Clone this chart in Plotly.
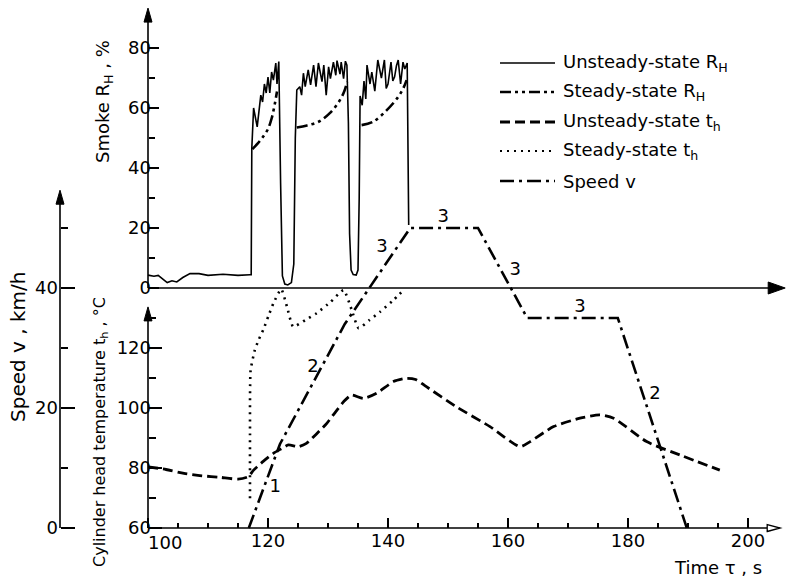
import plotly.graph_objects as go

# ---------------- data ----------------
# Smoke R_H, unsteady state (%)
smoke_u_t = [100, 101, 101.7, 102.5, 103.2, 104, 104.8, 105.8, 107, 108.5, 110, 112.5, 115, 117.0,
             117.2, 117.3, 117.6, 118.2, 118.8, 119.1, 119.4, 119.7, 120.0, 120.3, 120.6, 120.9, 121.3, 121.5, 121.8,
             122.1, 122.4, 122.8, 123.3, 123.9, 124.3, 124.55, 124.8,
             125.3, 125.6, 125.9, 126.2, 126.7, 127.1, 127.6, 128.0, 128.4, 129.0, 129.3, 129.7, 130.1, 130.4,
             130.9, 131.3, 131.5, 132.0, 132.2, 132.6, 132.9, 133.15,
             133.4, 133.6, 133.85, 134.2, 134.7, 135.0, 135.2, 135.35,
             135.7, 136.0, 136.3, 136.5, 137.0, 137.3, 137.8, 138.3, 138.9, 139.4, 139.7, 140.0, 140.5, 140.8,
             141.1, 141.4, 141.7, 142.1, 142.5, 142.8, 143.2, 143.45]
smoke_u_v = [4.3, 3.9, 4.2, 3.0, 1.8, 2.4, 2.0, 3.5, 4.8, 4.8, 4.2, 4.6, 4.2, 4.4,
             4.4, 46.5, 60.0, 53.7, 64.3, 62.0, 68.0, 65.0, 70.3, 65.0, 72.0, 69.3, 75.0, 68.0, 75.5,
             35.0, 4.0, 1.3, 1.0, 1.8, 8.0, 50.0, 66.0,
             67.1, 64.3, 71.6, 67.1, 72.7, 67.7, 74.3, 67.1, 75.0, 68.8, 74.3, 64.3, 73.7, 69.8,
             75.3, 70.9, 75.8, 71.3, 75.3, 69.8, 75.6, 74.3,
             55.0, 18.0, 6.0, 4.5, 4.3, 6.0, 30.0, 64.0,
             60.9, 69.0, 63.0, 74.3, 68.0, 72.0, 65.6, 76.0, 70.0, 76.0, 66.5, 68.0, 75.3, 69.0,
             70.4, 74.0, 76.0, 68.0, 75.3, 73.0, 75.0, 21.0]

# Smoke R_H, steady state (%) – three separate segments
smoke_s1_t = [117.4, 118.3, 119.2, 120.0, 120.6, 121.1, 121.5]
smoke_s1_v = [46.3, 48.2, 50.5, 53.0, 56.5, 61.0, 65.5]
smoke_s2_t = [124.8, 126.5, 128.5, 130.3, 131.8, 132.7, 133.2]
smoke_s2_v = [53.5, 54.2, 55.5, 58.3, 62.0, 65.5, 68.8]
smoke_s3_t = [135.6, 137.5, 139.8, 141.7, 142.6, 143.1]
smoke_s3_v = [54.3, 55.4, 59.3, 63.7, 66.8, 69.3]

# Cylinder head temperature t_h, unsteady state (°C)
temp_u_t = [100, 103, 106, 109, 112, 115, 116.7, 117.6, 119.2, 120.9, 122.3, 123.4, 125.1, 126.4, 128.0,
            129.8, 131.3, 132.6, 133.9, 135.9, 138.1, 140.9, 143.1, 144.6, 146.4, 151.4, 157.0, 162.0,
            163.7, 167.6, 172.0, 175.3, 177.6, 183.1, 188.7, 195.3]
temp_u_v = [80.4, 79.5, 78.2, 77.4, 76.9, 76.3, 77.1, 79.3, 82.2, 84.9, 86.5, 87.7, 87.1, 88.2, 91.2,
            94.9, 98.8, 102.1, 104.3, 103.2, 104.9, 108.8, 109.9, 109.5, 107.1, 100.4, 93.8, 87.1,
            88.8, 93.8, 96.6, 97.7, 96.6, 88.8, 84.3, 79.3]

# Cylinder head temperature t_h, steady state (°C)
temp_s_t = [117.0, 117.0, 117.1, 117.8, 118.5, 119.2, 120.1, 120.9, 122.2, 123.2, 124.2, 126.2, 128.1,
            130.4, 132.6, 133.9, 135.1, 136.9, 138.7, 140.7, 142.6]
temp_s_v = [69.9, 90.0, 112.5, 119.3, 123.0, 126.0, 130.8, 134.9, 139.6, 133.5, 127.1, 129.3, 131.6,
            135.3, 139.3, 133.0, 126.6, 129.3, 132.1, 135.6, 139.3]

# Speed v (km/h)
speed_t = [116.8, 122.0, 132.8, 143.7, 155.0, 163.2, 178.3, 189.8]
speed_v = [0, 14, 34, 50, 50, 35, 35, 0]

# gear labels on the speed curve (text, time, speed)
gear_text = ["1", "2", "3", "3", "3", "3", "2"]
gear_t = [121.2, 127.5, 139.0, 149.2, 161.2, 172.0, 184.5]
gear_v = [6.7, 26.7, 46.7, 51.8, 43.0, 36.8, 22.2]

time_ticks = [100, 120, 140, 160, 180, 200]
time_labels = ["", "120", "140", "160", "180", "200"]
time_minor = [105, 110, 115, 125, 130, 135, 145, 150, 155, 165, 170, 175, 185, 190, 195]
temp_ticks = [60, 80, 100, 120]
temp_minor = [70, 90, 110, 130]
smoke_ticks = [0, 20, 40, 60, 80]
smoke_minor = [10, 30, 50, 70]
speed_ticks = [0, 20, 40]
speed_minor = [10, 30, 50]

legend_names = ["Unsteady-state R<sub>H</sub>", "Steady-state R<sub>H</sub>",
                "Unsteady-state t<sub>h</sub>", "Steady-state t<sub>h</sub>", "Speed v"]

# ---------------- styling ----------------
W, H = 786, 580
FONT = "DejaVu Sans"
FS = 18
BLACK = "black"
DASH_SPEED = "14px,5px,3px,5px"
DASH_SSR = "11px,4px,3px,4px,3px,4px"
DASH_UT = "10px,5px"
DASH_ST = "2px,5px"

# pixel geometry: t=100 at x=148 px, 6 px per s; T=60 at y=528 px, 3 px per °C
X0, PX_S = 148, 6.0
Y0, PX_C = 528, 3.0
t_rng = [100 - X0 / PX_S, 100 + (W - X0) / PX_S]
T_rng = [60 - (H - Y0) / PX_C, 60 + Y0 / PX_C]
S_rng = [T_rng[0] - 140, T_rng[1] - 140]          # smoke 0 sits at T=140
V_rng = [(T_rng[0] - 60) / 2, (T_rng[1] - 60) / 2]  # speed 0 at T=60, 6 px per km/h

fig = go.Figure()

fig.add_trace(go.Scatter(x=smoke_u_t, y=smoke_u_v, yaxis="y2", mode="lines",
                         line=dict(color=BLACK, width=1.6), name="Unsteady-state R_H"))
for tt, vv in [(smoke_s1_t, smoke_s1_v), (smoke_s2_t, smoke_s2_v), (smoke_s3_t, smoke_s3_v)]:
    fig.add_trace(go.Scatter(x=tt, y=vv, yaxis="y2", mode="lines",
                             line=dict(color=BLACK, width=2.6, dash=DASH_SSR, shape="spline"),
                             name="Steady-state R_H"))
fig.add_trace(go.Scatter(x=temp_u_t, y=temp_u_v, yaxis="y", mode="lines",
                         line=dict(color=BLACK, width=2.8, dash=DASH_UT, shape="spline", smoothing=0.6),
                         name="Unsteady-state t_h"))
fig.add_trace(go.Scatter(x=temp_s_t, y=temp_s_v, yaxis="y", mode="lines",
                         line=dict(color=BLACK, width=2.6, dash=DASH_ST, shape="spline", smoothing=0.5),
                         name="Steady-state t_h"))
fig.add_trace(go.Scatter(x=speed_t, y=speed_v, yaxis="y3", mode="lines",
                         line=dict(color=BLACK, width=2.6, dash=DASH_SPEED), name="Speed v"))

fig.add_trace(go.Scatter(x=gear_t, y=gear_v, yaxis="y3", mode="text", text=gear_text,
                         textfont=dict(family=FONT, size=FS, color=BLACK), showlegend=False))

tickfont = dict(family=FONT, size=FS, color=BLACK)
common = dict(showgrid=False, zeroline=False, showline=False, ticks="inside", tickcolor=BLACK,
              tickwidth=1.5, tickfont=tickfont, tickmode="array", fixedrange=True)

fig.update_layout(
    width=W, height=H, margin=dict(l=0, r=0, t=0, b=0),
    paper_bgcolor="white", plot_bgcolor="white", showlegend=False, hovermode=False,
    font=dict(family=FONT, size=FS, color=BLACK),
    xaxis=dict(range=t_rng, anchor="free", position=(H - Y0) / H, tickvals=time_ticks,
               ticktext=time_labels, ticklen=10,
               minor=dict(tickmode="array", tickvals=time_minor, ticklen=5, tickwidth=1.2,
                          ticks="inside", tickcolor=BLACK),
               **common),
    yaxis=dict(range=T_rng, anchor="free", position=X0 / W, tickvals=temp_ticks, ticklen=13,
               ticklabelstandoff=-3,
               minor=dict(tickmode="array", tickvals=temp_minor, ticklen=7, tickwidth=1.2,
                          ticks="inside", tickcolor=BLACK),
               **common),
    yaxis2=dict(range=S_rng, overlaying="y", anchor="free", position=X0 / W, tickvals=smoke_ticks,
                ticklen=10, ticklabelstandoff=-3,
                minor=dict(tickmode="array", tickvals=smoke_minor, ticklen=6, tickwidth=1.2,
                           ticks="inside", tickcolor=BLACK),
                **common),
    yaxis3=dict(range=V_rng, overlaying="y", anchor="free", position=60 / W, tickvals=speed_ticks,
                ticklen=14, ticklabelstandoff=2,
                minor=dict(tickmode="array", tickvals=speed_minor, ticklen=7, tickwidth=1.2,
                           ticks="inside", tickcolor=BLACK),
                **common),
)

# ---------------- axis lines and arrow heads ----------------
LW = 1.6
shapes = []
# time axis (T = 60) with open arrow
shapes.append(dict(type="line", xref="x", yref="y", x0=100, x1=203.2, y0=60, y1=60,
                   line=dict(color=BLACK, width=LW)))
shapes.append(dict(type="path", xref="x", yref="y", xsizemode="pixel", ysizemode="pixel",
                   xanchor=203.2, yanchor=60, path="M 0,-3.5 L 13,0 L 0,3.5 Z",
                   fillcolor="white", line=dict(color=BLACK, width=1.3)))
# smoke zero line with filled arrow
shapes.append(dict(type="line", xref="x", yref="y2", x0=100, x1=204, y0=0, y1=0,
                   line=dict(color=BLACK, width=LW)))
shapes.append(dict(type="path", xref="x", yref="y2", xsizemode="pixel", ysizemode="pixel",
                   xanchor=206.2, yanchor=0, path="M -17,-6 L 0,0 L -17,6 Z",
                   fillcolor=BLACK, line=dict(color=BLACK, width=1)))
# smoke vertical axis
shapes.append(dict(type="line", xref="x", yref="y2", x0=100, x1=100, y0=0, y1=90,
                   line=dict(color=BLACK, width=LW)))
shapes.append(dict(type="path", xref="x", yref="y2", xsizemode="pixel", ysizemode="pixel",
                   xanchor=100, yanchor=93.3, path="M -4,-14 L 0,0 L 4,-14 Z",
                   fillcolor=BLACK, line=dict(color=BLACK, width=1)))
# temperature vertical axis
shapes.append(dict(type="line", xref="x", yref="y", x0=100, x1=100, y0=60, y1=131,
                   line=dict(color=BLACK, width=LW)))
shapes.append(dict(type="path", xref="x", yref="y", xsizemode="pixel", ysizemode="pixel",
                   xanchor=100, yanchor=133.7, path="M -4,-14 L 0,0 L 4,-14 Z",
                   fillcolor=BLACK, line=dict(color=BLACK, width=1)))
# speed vertical axis
shapes.append(dict(type="line", xref="paper", yref="y3", x0=60 / W, x1=60 / W, y0=0, y1=54.5,
                   line=dict(color=BLACK, width=LW)))
shapes.append(dict(type="path", xref="paper", yref="y3", xsizemode="pixel", ysizemode="pixel",
                   xanchor=60 / W, yanchor=56.3, path="M -4,-14 L 0,0 L 4,-14 Z",
                   fillcolor=BLACK, line=dict(color=BLACK, width=1)))

# ---------------- legend (drawn) ----------------
leg_rows = [63, 92, 122, 151, 181]
leg_styles = [dict(width=1.6, dash="solid"), dict(width=2.6, dash=DASH_SSR),
              dict(width=2.8, dash=DASH_UT), dict(width=2.2, dash=DASH_ST),
              dict(width=2.6, dash=DASH_SPEED)]
annotations = []
for row, sty, name in zip(leg_rows, leg_styles, legend_names):
    shapes.append(dict(type="line", xref="paper", yref="paper", x0=500 / W, x1=555 / W,
                       y0=1 - row / H, y1=1 - row / H, line=dict(color=BLACK, **sty)))
    annotations.append(dict(xref="paper", yref="paper", x=561 / W, y=1 - row / H, text=name,
                            showarrow=False, xanchor="left", yanchor="middle",
                            font=dict(family=FONT, size=FS, color=BLACK)))

# first time tick label, shifted right as in the original
annotations.append(dict(xref="paper", yref="paper", x=165 / W, y=1 - 542 / H, text="100",
                        showarrow=False, xanchor="center", yanchor="middle",
                        font=dict(family=FONT, size=FS)))
# axis titles
annotations.append(dict(xref="paper", yref="paper", x=104 / W, y=1 - 101 / H,
                        text="Smoke R<sub>H</sub> , %", textangle=-90, showarrow=False,
                        xanchor="center", yanchor="middle", font=dict(family=FONT, size=FS)))
annotations.append(dict(xref="paper", yref="paper", x=18 / W, y=1 - 347 / H,
                        text="Speed v , km/h", textangle=-90, showarrow=False,
                        xanchor="center", yanchor="middle", font=dict(family=FONT, size=20)))
annotations.append(dict(xref="paper", yref="paper", x=100 / W, y=1 - 432 / H,
                        text="Cylinder head temperature t<sub>h</sub> , °C", textangle=-90,
                        showarrow=False, xanchor="center", yanchor="middle",
                        font=dict(family=FONT, size=16)))
annotations.append(dict(xref="paper", yref="paper", x=764 / W, y=1 - 567 / H,
                        text="Time τ , s", showarrow=False, xanchor="right", yanchor="middle",
                        font=dict(family=FONT, size=FS)))

fig.update_layout(shapes=shapes, annotations=annotations)
fig.write_html("out.html", config={"displayModeBar": False, "staticPlot": True},
               post_script="document.body.style.margin='0';document.body.style.overflow='hidden';")
